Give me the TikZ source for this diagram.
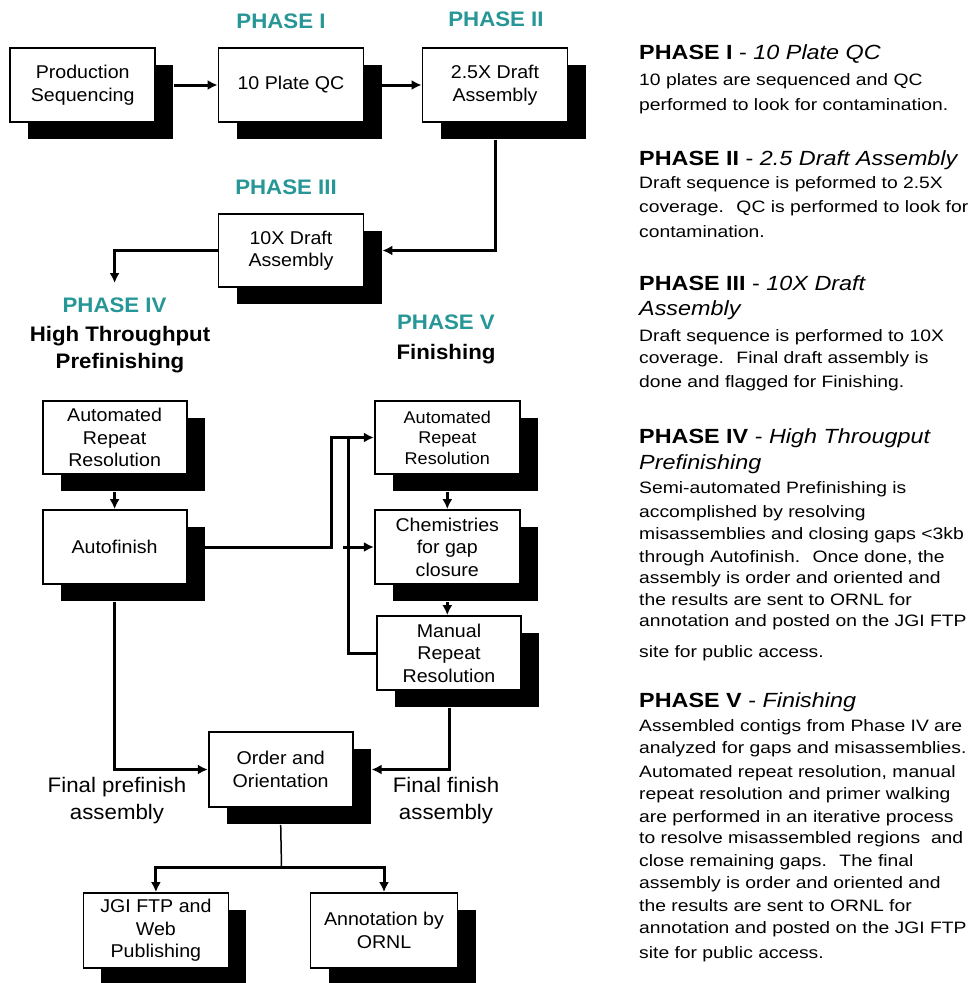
\documentclass[tikz,border=0pt]{standalone}
\usepackage{fontspec}
\setmainfont[FakeStretch=1.06]{Liberation Sans}
\newfontfamily\descfont[FakeStretch=1.17]{Liberation Sans}
\newfontfamily\headfont[FakeStretch=1.14]{Liberation Sans}
\usetikzlibrary{arrows.meta,shadows,calc}
\definecolor{phteal}{RGB}{38,150,150}
\begin{document}
\begin{tikzpicture}[x=1pt,y=-1pt,
  box/.style={draw=black, line width=1.8pt, fill=white, align=center, inner sep=0pt,
    font=\fontsize{18.5}{22.5}\selectfont,
    general shadow={fill=black, shadow xshift=18pt, shadow yshift=-17pt}},
  arr/.style={line width=3pt, -{Latex[length=10pt,width=10pt]}},
  ln/.style={line width=3pt},
  phase/.style={font=\bfseries\fontsize{21}{25}\selectfont, text=phteal, inner sep=0pt},
  sub/.style={font=\bfseries\fontsize{21}{25}\selectfont, inner sep=0pt},
  lbl/.style={font=\fontsize{21}{27}\selectfont, inner sep=0pt, align=center},
  desc/.style={anchor=base west, inner sep=0pt, font=\descfont\fontsize{16.5}{20}\selectfont},
  head/.style={anchor=base west, inner sep=0pt, font=\headfont\fontsize{20.5}{24}\selectfont}]
\useasboundingbox (0,0) rectangle (971,983);

% boxes
\node[box, minimum width=145pt, minimum height=74pt] (ps) at (82.7,85) {Production\\Sequencing};
\node[box, minimum width=145pt, minimum height=74pt] (qc) at (291,85) {10 Plate QC};
\node[box, minimum width=145pt, minimum height=74pt] (d25) at (495,85) {2.5X Draft\\Assembly};
\node[box, minimum width=145pt, minimum height=73pt] (d10) at (291,250.5) {10X Draft\\Assembly};
\node[box, minimum width=144pt, minimum height=73pt] (lar) at (114.6,437.5) {Automated\\Repeat\\Resolution};
\node[box, minimum width=144pt, minimum height=74pt] (af) at (114.6,547) {Autofinish};
\node[box, minimum width=145pt, minimum height=73pt, font=\fontsize{17}{20.5}\selectfont] (rar) at (447.3,437.5) {Automated\\Repeat\\Resolution};
\node[box, minimum width=145pt, minimum height=74pt] (chem) at (447.3,547) {Chemistries\\for gap\\closure};
\node[box, minimum width=144pt, minimum height=74pt] (man) at (449,653) {Manual\\Repeat\\Resolution};
\node[box, minimum width=144pt, minimum height=75pt] (ord) at (280.7,769.5) {Order and\\Orientation};
\node[box, minimum width=145pt, minimum height=75pt] (jgi) at (155.9,930.5) {JGI FTP and\\Web\\Publishing};
\node[box, minimum width=147pt, minimum height=75pt] (ann) at (384,930.5) {Annotation by\\ORNL};

% phase labels
\node[phase] (p1) at (281,21) {PHASE I};
\node[phase] (p2) at (496,19) {PHASE II};
\node[phase] (p3) at (286,187) {PHASE III};
\node[phase] (p4) at (114.6,305) {PHASE IV};
\node[sub] (p4a) at (120,336) {High Throughput};
\node[sub] (p4b) at (120,363) {Prefinishing};
\node[phase] (p5) at (446,322) {PHASE V};
\node[sub] (p5a) at (446,354) {Finishing};
\node[lbl] (fpa) at (117,801) {Final prefinish\\assembly};
\node[lbl] (ffa) at (446,801) {Final finish\\assembly};

% connectors
\coordinate (p4top) at (114.6,283);
\coordinate (br) at (343,547);
\coordinate (split) at (281.5,867);
\draw[arr] ([xshift=18pt]ps.east) -- (qc.west);
\draw[arr] ([xshift=18pt]qc.east) -- (d25.west);
\draw[arr] ([yshift=-17pt]d25.south) |- ([xshift=18pt]d10.east);
\draw[arr] (d10.west) -| (p4top);
\draw[arr] ([yshift=-17pt]lar.south) -- (af.north);
\draw[arr] (af.east) -- ++(144,0) |- (rar.west);
\draw[ln] (man.west) -| ($(rar.west)+(-25,0)$);
\draw[arr] (br) -- (chem.west);
\draw[arr] ([yshift=-17pt]rar.south) -- (chem.north);
\draw[arr] ([yshift=-17pt]chem.south) -- (chem.south |- man.north);
\draw[arr] ([yshift=-17pt]af.south) |- (ord.west);
\draw[arr] ([yshift=-17pt]man.south) |- ([xshift=18pt]ord.east);
\draw[line width=1.5pt] ([yshift=-17pt]ord.south) -- (split);
\draw[arr] (split) -| (jgi.north);
\draw[arr] (split) -| (ann.north);

% description text
\node[head] (h1) at (639,59) {\textbf{PHASE I} - \textit{10 Plate QC}};
\node[desc] (t1) at (639,85) {10 plates are sequenced and QC};
\node[desc] (t2) at (639,110) {performed to look for contamination.};
\node[head] (h2) at (639,165) {\textbf{PHASE II} - \textit{2.5 Draft Assembly}};
\node[desc] (t3) at (639,188) {Draft sequence is peformed to 2.5X};
\node[desc] (t4) at (639,212) {coverage.~ QC is performed to look for};
\node[desc] (t5) at (639,237) {contamination.};
\node[head] (h3) at (639,290) {\textbf{PHASE III} - \textit{10X Draft}};
\node[head] (h3b) at (639,315) {\textit{Assembly}};
\node[desc] (t6) at (639,341) {Draft sequence is performed to 10X};
\node[desc] (t7) at (639,363) {coverage.~ Final draft assembly is};
\node[desc] (t8) at (639,387) {done and flagged for Finishing.};
\node[head] (h4) at (639,443) {\textbf{PHASE IV} - \textit{High Througput}};
\node[head] (h4b) at (639,469) {\textit{Prefinishing}};
\node[desc] (t9) at (639,493) {Semi-automated Prefinishing is};
\node[desc] (t10) at (639,517) {accomplished by resolving};
\node[desc] (t11) at (639,539) {misassemblies and closing gaps <3kb};
\node[desc] (t12) at (639,562) {through Autofinish.~ Once done, the};
\node[desc] (t13) at (639,583) {assembly is order and oriented and};
\node[desc] (t14) at (639,605) {the results are sent to ORNL for};
\node[desc] (t15) at (639,626) {annotation and posted on the JGI FTP};
\node[desc] (t16) at (639,657) {site for public access.};
\node[head] (h5) at (639,707) {\textbf{PHASE V} - \textit{Finishing}};
\node[desc] (t17) at (639,731) {Assembled contigs from Phase IV are};
\node[desc] (t18) at (639,753) {analyzed for gaps and misassemblies.};
\node[desc] (t19) at (639,777) {Automated repeat resolution, manual};
\node[desc] (t20) at (639,799) {repeat resolution and primer walking};
\node[desc] (t21) at (639,822) {are performed in an iterative process};
\node[desc] (t22) at (639,843) {to resolve misassembled regions~ and};
\node[desc] (t23) at (639,866) {close remaining gaps.~ The final};
\node[desc] (t24) at (639,888) {assembly is order and oriented and};
\node[desc] (t25) at (639,911) {the results are sent to ORNL for};
\node[desc] (t26) at (639,933) {annotation and posted on the JGI FTP};
\node[desc] (t27) at (639,958) {site for public access.};
\end{tikzpicture}
\end{document}
